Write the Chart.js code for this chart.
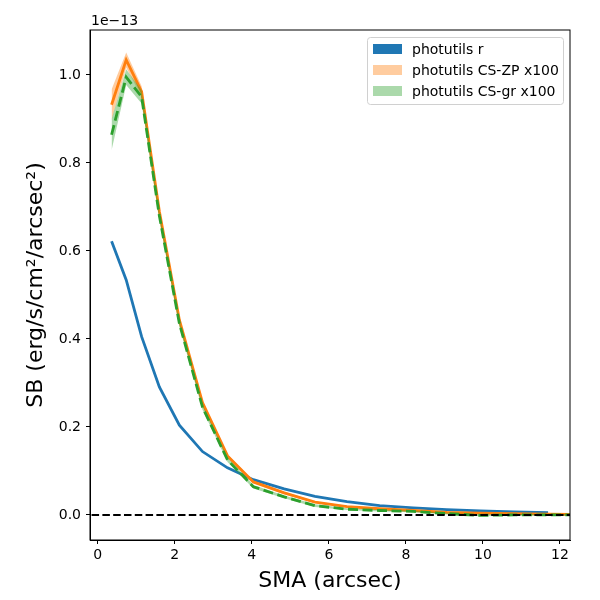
<!DOCTYPE html>
<html>
<head>
<meta charset="utf-8">
<script src="https://cdn.jsdelivr.net/npm/chart.js@4"></script>
<style>
  html, body { margin: 0; padding: 0; background: #fff; }
  #box { width: 600px; height: 600px; }
</style>
</head>
<body>
<div id="box"><canvas id="chart" width="600" height="600"></canvas></div>
<script>
// DATA (surface brightness in units of 1e-13 erg/s/cm2/arcsec2)
var sma = [0.36, 0.74, 1.14, 1.6, 2.12, 2.72, 3.37, 4.04, 4.84, 5.64, 6.47, 7.32, 8.19, 9.06, 9.93, 10.81, 11.69, 12.6];

var sbR = [0.622, 0.534, 0.405, 0.291, 0.204, 0.144, 0.107, 0.080, 0.059, 0.042, 0.030, 0.021, 0.016, 0.012, 0.009, 0.007, 0.005];

var sbZP = [0.932, 1.034, 0.962, 0.690, 0.443, 0.255, 0.134, 0.075, 0.050, 0.029, 0.019, 0.014, 0.010, 0.006, 0.004, 0.003, 0.002, 0.001];
var errZP = [0.035, 0.017, 0.012, 0.008, 0.006, 0.005, 0.004, 0.003, 0.003, 0.002, 0.002, 0.002, 0.002, 0.002, 0.002, 0.002, 0.002, 0.002];

var sbGR = [0.864, 0.995, 0.950, 0.680, 0.435, 0.245, 0.125, 0.064, 0.041, 0.021, 0.013, 0.010, 0.008, 0.003, -0.001, 0.000, 0.000, 0.000];
var errGR = [0.035, 0.018, 0.015, 0.010, 0.008, 0.006, 0.005, 0.004, 0.003, 0.003, 0.002, 0.002, 0.002, 0.002, 0.002, 0.002, 0.002, 0.002];

var xTicks = [0, 2, 4, 6, 8, 10, 12];
var yTicks = [0.0, 0.2, 0.4, 0.6, 0.8, 1.0];
var zeroX = [-1, 13];
var zeroY = [0, 0];

var legendNames = ['photutils r', 'photutils CS-ZP x100', 'photutils CS-gr x100'];
var legendColors = ['#1f77b4', 'rgba(255,127,14,0.4)', 'rgba(44,160,44,0.4)'];

var FONT = "'DejaVu Sans', sans-serif";

function pts(xs, ys) {
    return ys.map(function(y, i) { return {x: xs[i], y: y}; });
}
function shifted(ys, errs, sign) {
    return ys.map(function(y, i) { return y + sign * errs[i]; });
}

var frame = {
    id: 'frame',
    afterDraw: function(chart) {
        var ctx = chart.ctx;
        var a = chart.chartArea;
        ctx.save();
        ctx.strokeStyle = '#000';
        ctx.lineWidth = 1;
        ctx.strokeRect(a.left, a.top, a.right - a.left, a.bottom - a.top);

        // offset text
        ctx.fillStyle = '#000';
        ctx.font = '14px ' + FONT;
        ctx.textAlign = 'left';
        ctx.textBaseline = 'middle';
        ctx.fillText('1e\u221213', 91, 21);

        // legend
        var lx = 367, ly = 37, lw = 196, lh = 67;
        ctx.fillStyle = 'rgba(255,255,255,0.8)';
        ctx.strokeStyle = '#d0d0d0';
        ctx.beginPath();
        ctx.roundRect(lx + 0.5, ly + 0.5, lw, lh, 3);
        ctx.fill();
        ctx.stroke();
        for (var i = 0; i < legendNames.length; i++) {
            var cy = 49 + i * 21;
            ctx.fillStyle = legendColors[i];
            ctx.fillRect(373, cy - 5, 29, 10);
            ctx.fillStyle = '#000';
            ctx.fillText(legendNames[i], 412, cy + 1);
        }
        ctx.restore();
    }
};

var ctx = document.getElementById('chart').getContext('2d');
var sbChart = new Chart(ctx, {
    type: 'line',
    data: {
        datasets: [
            // orange band
            { data: pts(sma, shifted(sbZP, errZP, 1)), borderWidth: 0, pointRadius: 0, fill: false, order: 6 },
            { data: pts(sma, shifted(sbZP, errZP, -1)), borderWidth: 0, pointRadius: 0, fill: '-1',
              backgroundColor: 'rgba(255,127,14,0.4)', order: 5 },
            // green band
            { data: pts(sma, shifted(sbGR, errGR, 1)), borderWidth: 0, pointRadius: 0, fill: false, order: 3 },
            { data: pts(sma, shifted(sbGR, errGR, -1)), borderWidth: 0, pointRadius: 0, fill: '-1',
              backgroundColor: 'rgba(44,160,44,0.4)', order: 2 },
            // lines
            { data: pts(sma, sbR), borderColor: '#1f77b4', borderWidth: 2.8, pointRadius: 0, fill: false, order: 7 },
            { data: pts(sma, sbZP), borderColor: '#ff7f0e', borderWidth: 2.8, pointRadius: 0, fill: false, order: 4 },
            { data: pts(sma, sbGR), borderColor: '#2ca02c', borderWidth: 2.8, borderDash: [10, 4.5],
              pointRadius: 0, fill: false, order: 1 },
            { data: pts(zeroX, zeroY), borderColor: '#000', borderWidth: 2, borderDash: [7.5, 3.3],
              pointRadius: 0, fill: false, order: 0 }
        ]
    },
    options: {
        responsive: false,
        animation: false,
        layout: {
            padding: { top: 30, right: 30, left: 0, bottom: 0 }
        },
        scales: {
            x: {
                type: 'linear',
                min: -0.2,
                max: 12.26,
                afterBuildTicks: function(scale) {
                    scale.ticks = xTicks.map(function(v) { return {value: v}; });
                },
                afterFit: function(scale) { scale.height = 60; },
                grid: { drawOnChartArea: false, drawTicks: true, tickLength: 4, color: '#000' },
                border: { color: '#000' },
                ticks: {
                    color: '#000',
                    padding: 3,
                    maxRotation: 0,
                    font: { family: FONT, size: 14 },
                    callback: function(v) { return String(v); }
                },
                title: {
                    display: true,
                    text: 'SMA (arcsec)',
                    color: '#000',
                    font: { family: FONT, size: 22 },
                    padding: { top: 0, bottom: 6 }
                }
            },
            y: {
                type: 'linear',
                min: -0.057,
                max: 1.102,
                afterBuildTicks: function(scale) {
                    scale.ticks = yTicks.map(function(v) { return {value: v}; });
                },
                afterFit: function(scale) { scale.width = 90; },
                grid: { drawOnChartArea: false, drawTicks: true, tickLength: 4, color: '#000' },
                border: { color: '#000' },
                ticks: {
                    color: '#000',
                    padding: 5,
                    font: { family: FONT, size: 14 },
                    callback: function(v) { return v.toFixed(1); }
                },
                title: {
                    display: true,
                    text: 'SB (erg/s/cm\u00b2/arcsec\u00b2)',
                    color: '#000',
                    font: { family: FONT, size: 22 },
                    padding: { top: 23, bottom: 0 }
                }
            }
        },
        plugins: {
            legend: { display: false },
            tooltip: { enabled: false }
        }
    },
    plugins: [frame]
});
</script>
</body>
</html>
